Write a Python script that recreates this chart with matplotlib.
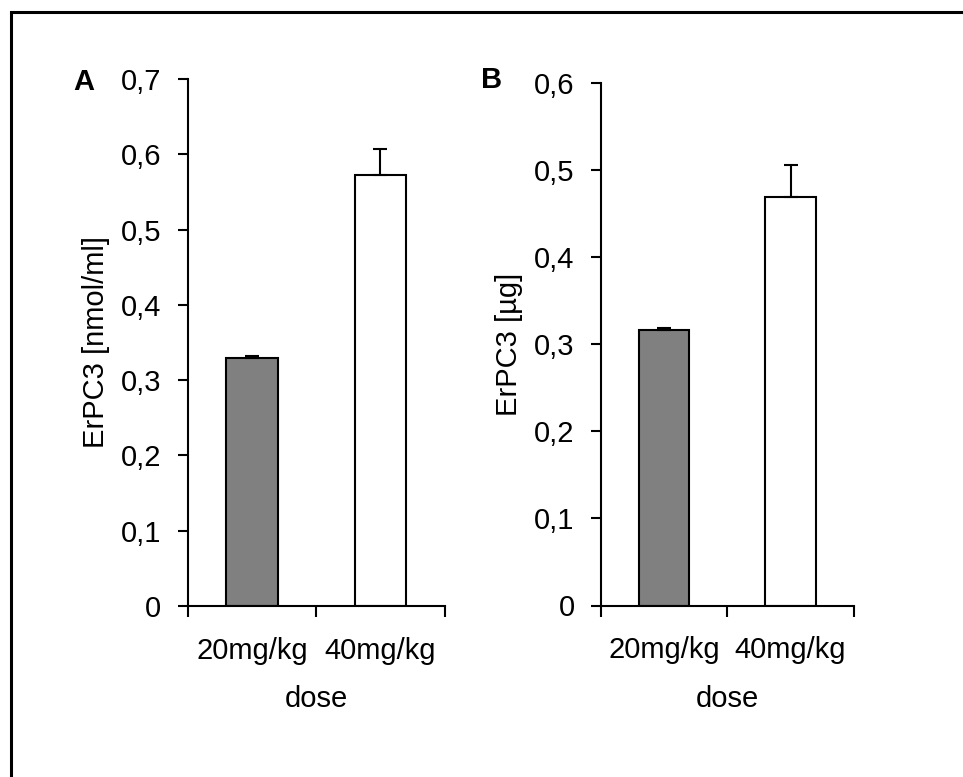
import matplotlib
matplotlib.use("Agg")
import matplotlib.pyplot as plt
import matplotlib.ticker as mticker
from matplotlib.patches import Rectangle

plt.rcParams['font.family'] = ['Liberation Sans', 'DejaVu Sans']

doses = ['20mg/kg', '40mg/kg']
colors = ['#808080', 'white']

nmol_mean = [0.329, 0.573]
nmol_err = [0.003, 0.034]

ug_mean = [0.317, 0.469]
ug_err = [0.002, 0.037]

W, H = 963, 777
fig = plt.figure(figsize=(W / 100, H / 100), dpi=100)


def px_axes(left, top, right, bottom):
    return fig.add_axes([left / W, 1 - bottom / H, (right - left) / W, (bottom - top) / H])


def comma_fmt(v, pos):
    if abs(v) < 1e-9:
        return '0'
    return f"{v:.1f}".replace('.', ',')


def draw_panel(ax, means, errs, ymax, ylabel):
    x = [0.5, 1.5]
    ax.bar(x, means, width=0.4, color=colors, edgecolor='black', linewidth=1.5, zorder=2)
    ax.errorbar(x, means, yerr=[[0, 0], errs], fmt='none', ecolor='black',
                elinewidth=1.5, capsize=4.8, capthick=1.5, zorder=3)
    ax.set_xlim(0, 2)
    ax.set_ylim(0, ymax)
    ax.set_yticks([i / 10 for i in range(int(round(ymax * 10)) + 1)])
    ax.yaxis.set_major_formatter(mticker.FuncFormatter(comma_fmt))
    ax.set_xticks([0, 1, 2])
    ax.set_xticklabels([])
    ax.set_xticks(x, minor=True)
    ax.set_xticklabels(doses, minor=True)
    for s in ['top', 'right']:
        ax.spines[s].set_visible(False)
    for s in ['left', 'bottom']:
        ax.spines[s].set_linewidth(1.5)
    ax.tick_params(axis='y', direction='out', length=7, width=1.5, labelsize=21, pad=12)
    ax.tick_params(axis='x', which='major', direction='out', length=8, width=1.5)
    ax.tick_params(axis='x', which='minor', length=0, labelsize=21, pad=22)
    ax.set_xlabel('dose', fontsize=21, labelpad=15)
    ax.set_ylabel(ylabel, fontsize=21, labelpad=8)


axA = px_axes(187.7, 79, 444.7, 606)
draw_panel(axA, nmol_mean, nmol_err, 0.7, 'ErPC3 [nmol/ml]')

axB = px_axes(601, 83.3, 853.7, 605.5)
draw_panel(axB, ug_mean, ug_err, 0.6, 'ErPC3 [µg]')

# panel letters
fig.text(84 / W, 1 - 81.5 / H, 'A', fontsize=21, fontweight='bold', ha='center', va='center')
fig.text(491.5 / W, 1 - 80.5 / H, 'B', fontsize=21, fontweight='bold', ha='center', va='center')

# outer frame, right and bottom edges fall outside the picture
fig.add_artist(Rectangle((10.5 / W, -0.05), 1.1, 1 - 12 / H + 0.05,
                         transform=fig.transFigure, fill=False,
                         edgecolor='black', linewidth=2.2, clip_on=False))

fig.savefig('out.png', dpi=100)
